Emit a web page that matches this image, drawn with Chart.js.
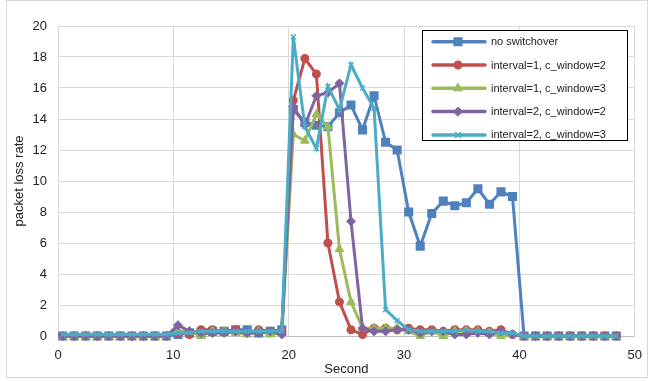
<!DOCTYPE html>
<html>
<head>
<meta charset="utf-8">
<script src="https://cdn.jsdelivr.net/npm/chart.js@4/dist/chart.umd.min.js"></script>
<style>
  body { margin: 0; background: #fff; }
</style>
</head>
<body>
<canvas id="lossChart" width="654" height="381"></canvas>
<script>
// chart data
const seconds = [0.4, 1.4, 2.4, 3.4, 4.4, 5.4, 6.4, 7.4, 8.4, 9.4,
    10.4, 11.4, 12.4, 13.4, 14.4, 15.4, 16.4, 17.4, 18.4, 19.4,
    20.4, 21.4, 22.4, 23.4, 24.4, 25.4, 26.4, 27.4, 28.4, 29.4,
    30.4, 31.4, 32.4, 33.4, 34.4, 35.4, 36.4, 37.4, 38.4, 39.4,
    40.4, 41.4, 42.4, 43.4, 44.4, 45.4, 46.4, 47.4, 48.4];

const seriesNames = ['no switchover', 'interval=1, c_window=2', 'interval=1, c_window=3',
    'interval=2, c_window=2', 'interval=2, c_window=3'];

const noSwitchover = [0, 0, 0, 0, 0, 0, 0, 0, 0, 0,
    0.1, 0.2, 0.2, 0.3, 0.3, 0.4, 0.4, 0.2, 0.3, 0.4,
    14.6, 13.8, 13.6, 13.5, 14.4, 14.9, 13.3, 15.5, 12.5, 12.0,
    8.0, 5.8, 7.9, 8.7, 8.4, 8.6, 9.5, 8.5, 9.3, 9.0,
    0, 0, 0, 0, 0, 0, 0, 0, 0];

const int1Win2 = [0, 0, 0, 0, 0, 0, 0, 0, 0, 0,
    0.2, 0.1, 0.4, 0.4, 0.3, 0.4, 0.2, 0.4, 0.3, 0.3,
    15.2, 17.9, 16.9, 6.0, 2.2, 0.4, 0.1, 0.5, 0.5, 0.4,
    0.5, 0.4, 0.4, 0.3, 0.4, 0.4, 0.4, 0.3, 0.4, 0.1,
    0, 0, 0, 0, 0, 0, 0, 0, 0];

const int1Win3 = [0, 0, 0, 0, 0, 0, 0, 0, 0, 0,
    0.3, 0.3, 0, 0.3, 0.3, 0.2, 0.1, 0.3, 0.1, 0.2,
    13.0, 12.6, 14.3, 13.5, 5.6, 2.2, 0.5, 0.5, 0.5, 0.5,
    0.3, 0, 0.3, 0, 0.3, 0.3, 0.3, 0.2, 0, 0.1,
    0, 0, 0, 0, 0, 0, 0, 0, 0];

const int2Win2 = [0, 0, 0, 0, 0, 0, 0, 0, 0, 0,
    0.7, 0.3, 0.2, 0.2, 0.2, 0.3, 0.2, 0.2, 0.3, 0.1,
    14.8, 13.6, 15.5, 15.7, 16.3, 7.4, 0.5, 0.3, 0.3, 0.4,
    0.4, 0.2, 0.3, 0.3, 0.1, 0.1, 0.2, 0.1, 0.3, 0.1,
    0, 0, 0, 0, 0, 0, 0, 0, 0];

const int2Win3 = [0.1, 0.1, 0.1, 0.1, 0.1, 0.1, 0.1, 0.1, 0.1, 0.1,
    0.2, 0.2, 0.3, 0.3, 0.3, 0.3, 0.3, 0.3, 0.3, 0.3,
    19.3, 13.5, 12.1, 16.1, 14.6, 17.5, 16.0, 14.7, 1.7, 1.0,
    0.4, 0.3, 0.3, 0.3, 0.3, 0.4, 0.3, 0.3, 0.2, 0.2,
    0, 0, 0, 0, 0, 0, 0, 0, 0];

const xTickLabels = [0, 10, 20, 30, 40, 50];
const yTickLabels = [0, 2, 4, 6, 8, 10, 12, 14, 16, 18, 20];

const fontFamily = '"Liberation Sans", Arial, sans-serif';
const textColor = '#222';
const gridColor = '#d9d9d9';

// one series of the chart
function makeDataset(index, values, color, style, radius, pointBorder) {
    return {
        label: seriesNames[index],
        data: values.map((v, i) => ({ x: seconds[i], y: v })),
        borderColor: color,
        backgroundColor: color,
        borderWidth: 3,
        pointStyle: style,
        pointRadius: radius,
        pointBorderWidth: pointBorder,
        pointBackgroundColor: color,
        pointBorderColor: color,
        tension: 0,
        clip: false,
        order: 4 - index
    };
}

// legend box drawn inside the plot
const boxLegend = {
    id: 'boxLegend',
    afterDraw(chart) {
        const ctx = chart.ctx;
        ctx.save();
        ctx.fillStyle = '#fff';
        ctx.fillRect(422.5, 30.5, 205, 110);
        ctx.strokeStyle = '#000';
        ctx.lineWidth = 1;
        ctx.strokeRect(422.5, 30.5, 205, 110);

        chart.data.datasets.forEach((ds, i) => {
            const y = 41.7 + i * 23.3;
            ctx.strokeStyle = ds.borderColor;
            ctx.lineWidth = 3.5;
            ctx.lineCap = 'round';
            ctx.beginPath();
            ctx.moveTo(433, y);
            ctx.lineTo(485, y);
            ctx.stroke();
            ctx.fillStyle = ds.borderColor;
            ctx.lineWidth = ds.pointBorderWidth;
            Chart.helpers.drawPoint(ctx, {
                pointStyle: ds.pointStyle,
                radius: ds.pointRadius,
                rotation: 0,
                borderWidth: ds.pointBorderWidth
            }, 458, y);
            ctx.fillStyle = textColor;
            ctx.font = '11px ' + fontFamily;
            ctx.textBaseline = 'middle';
            ctx.textAlign = 'left';
            ctx.fillText(ds.label, 491, y + 0.5);
        });

        // chart area border
        ctx.strokeStyle = gridColor;
        ctx.lineWidth = 1;
        ctx.strokeRect(6.5, 0.5, 641, 377);
        ctx.restore();
    }
};

function renderChart() {
    const ctx = document.getElementById('lossChart').getContext('2d');
    new Chart(ctx, {
        type: 'line',
        data: {
            datasets: [
                makeDataset(0, noSwitchover, '#4F81BD', 'rect', 5, 2),
                makeDataset(1, int1Win2, '#C0504D', 'circle', 3.5, 2),
                makeDataset(2, int1Win3, '#9BBB59', 'triangle', 5, 1),
                makeDataset(3, int2Win2, '#8064A2', 'rectRot', 4.5, 1),
                makeDataset(4, int2Win3, '#4BACC6', 'crossRot', 3.5, 1.5)
            ]
        },
        options: {
            responsive: false,
            animation: false,
            layout: { padding: { left: 8, top: 26, right: 19, bottom: 0 } },
            plugins: {
                legend: { display: false },
                tooltip: { enabled: false }
            },
            scales: {
                x: {
                    type: 'linear',
                    min: 0,
                    max: 50,
                    afterBuildTicks: s => { s.ticks = xTickLabels.map(v => ({ value: v })); },
                    afterFit: s => { s.height = 45; },
                    grid: { color: gridColor, drawTicks: false },
                    border: { color: '#bfbfbf' },
                    ticks: { padding: 12, color: textColor, font: { family: fontFamily, size: 13 } },
                    title: { display: true, text: 'Second', color: textColor, font: { family: fontFamily, size: 13 } }
                },
                y: {
                    min: 0,
                    max: 20,
                    afterBuildTicks: s => { s.ticks = yTickLabels.map(v => ({ value: v })); },
                    afterFit: s => { s.width = 50; },
                    grid: { color: gridColor, drawTicks: false },
                    border: { color: gridColor },
                    ticks: { padding: 11, color: textColor, font: { family: fontFamily, size: 13 } },
                    title: { display: true, text: 'packet loss rate', color: textColor, font: { family: fontFamily, size: 13 } }
                }
            }
        },
        plugins: [boxLegend]
    });
}

window.onload = function() {
    renderChart();
};
</script>
</body>
</html>
